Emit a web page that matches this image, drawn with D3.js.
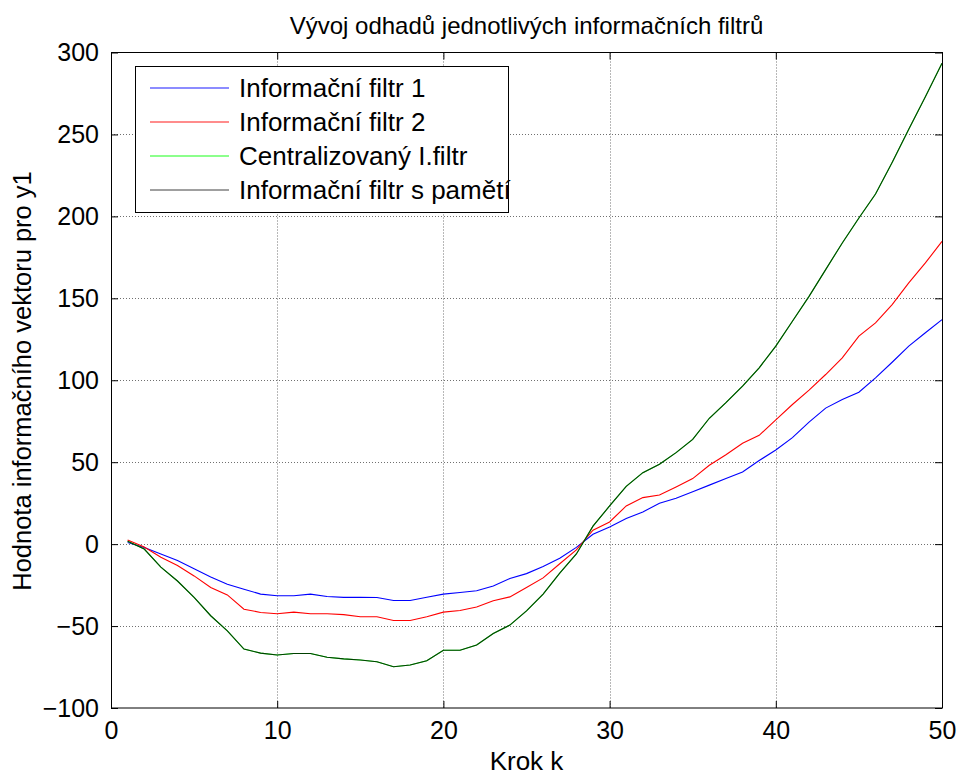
<!DOCTYPE html>
<head>
  <meta charset="utf-8">
  <script src="https://d3js.org/d3.v7.min.js"></script>
  <style>
    body { margin:0; padding:0; background:#fff; }
    text { font-family: "Liberation Sans", Arial, sans-serif; fill:#000; }
  </style>
</head>
<body>
  <svg id="chart" width="958" height="776"></svg>
  <script>
    var width  = 958;
    var height = 776;

    var steps = d3.range(1, 51);
    var filtr1 = [1, -2, -6, -10, -15, -20, -24.5, -27.5, -30.5, -31.5,
                  -31.5, -30.5, -32, -32.5, -32.5, -32.6, -34.4, -34.4, -32.4, -30.5,
                  -29.5, -28.5, -25.5, -21, -18, -13.7, -8.6, -2, 6, 10.5,
                  15.6, 19.6, 25, 28, 32, 36, 40, 44, 51, 57.4,
                  65, 74.5, 83, 88.3, 92.7, 101.5, 111, 120.8, 129, 137];
    var filtr2 = [2.5, -1.7, -8, -13, -19.4, -26.5, -31, -39.7, -41.7, -42.5,
                  -41.5, -42.5, -42.5, -43, -44.3, -44.3, -46.6, -46.6, -44.3, -41.5,
                  -40.5, -38.4, -34.6, -32.2, -26.5, -20.6, -12, -3.5, 8.5, 13.5,
                  23.3, 28.4, 30, 34.9, 40, 48.1, 54.5, 61.5, 66.4, 75.8,
                  85.2, 94, 103.5, 113.7, 126.9, 135, 146.2, 159.4, 171.6, 184.7];
    var pamet  = [1.8, -3, -14, -22.5, -32.5, -43.7, -52.9, -64, -66.5, -67.7,
                  -66.7, -66.7, -69, -70, -70.7, -71.8, -74.8, -73.8, -71.2, -64.8,
                  -64.8, -61.6, -54.5, -49.4, -40.7, -30.5, -17.7, -6, 11, 23.3,
                  35.3, 43.6, 48.7, 55.8, 63.9, 76.8, 86.3, 96.4, 107.6, 120.8,
                  136, 151.2, 167.5, 183.8, 199, 213.6, 232.9, 253.1, 273, 293.4];
    var central = pamet.slice();

    var names  = ["Informační filtr 1", "Informační filtr 2", "Centralizovaný I.filtr", "Informační filtr s pamětí"];
    var colors = ["#0000ff", "#ff0000", "#00ff00", "#000000"];

    var xTicks = [0, 10, 20, 30, 40, 50];
    var yTicks = [-100, -50, 0, 50, 100, 150, 200, 250, 300];

    var series = [filtr1, filtr2, central, pamet].map(function(v, i) {
      return {name: names[i], values: v, color: colors[i]};
    });

    var padL = 111, padR = 942, padT = 52.5, padB = 708;

    var svg = d3.select("#chart");
    var x = d3.scaleLinear().domain([0, 50]).range([padL, padR]);
    var y = d3.scaleLinear().domain([-100, 300]).range([padB, padT]);

    // grid
    var grid = svg.append("g").attr("stroke", "#707070").attr("stroke-width", 1)
        .attr("stroke-dasharray", "1,2");
    grid.selectAll("line.gx").data(xTicks.slice(1, -1)).enter().append("line")
        .attr("x1", d => Math.round(x(d)) + 0.5).attr("x2", d => Math.round(x(d)) + 0.5)
        .attr("y1", padT).attr("y2", padB);
    grid.selectAll("line.gy").data(yTicks.slice(1, -1)).enter().append("line")
        .attr("y1", d => Math.round(y(d)) + 0.5).attr("y2", d => Math.round(y(d)) + 0.5)
        .attr("x1", padL).attr("x2", padR);

    // lines (green under, black on top -> dark green look)
    var line = d3.line().x((d, i) => x(steps[i])).y(d => y(d));
    series.forEach(function(s) {
      svg.append("path").attr("d", line(s.values)).attr("fill", "none")
        .attr("stroke", s.color).attr("stroke-width", 1.1)
        .attr("stroke-opacity", s.color === "#000000" ? 0.75 : 1);
    });

    // axes with inward ticks
    var tl = 7;
    var fnt = "'Liberation Sans', Arial, sans-serif";
    svg.append("g").attr("transform", "translate(0," + padB + ")")
      .call(d3.axisBottom(x).tickValues(xTicks).tickSize(-tl).tickPadding(13))
      .call(g => g.select(".domain").remove());
    svg.append("g").attr("transform", "translate(0," + padT + ")")
      .call(d3.axisTop(x).tickValues(xTicks).tickSize(-tl).tickFormat(""))
      .call(g => g.select(".domain").remove());
    svg.append("g").attr("transform", "translate(" + padL + ",0)")
      .call(d3.axisLeft(y).tickValues(yTicks).tickSize(-tl).tickPadding(12))
      .call(g => g.select(".domain").remove());
    svg.append("g").attr("transform", "translate(" + padR + ",0)")
      .call(d3.axisRight(y).tickValues(yTicks).tickSize(-tl).tickFormat(""))
      .call(g => g.select(".domain").remove());
    svg.selectAll(".tick text").style("font-size", "25px").style("font-family", fnt).attr("fill", "#000");
    svg.selectAll(".tick line").attr("stroke", "#000");

    svg.append("rect").attr("x", padL + 0.5).attr("y", padT).attr("width", padR - padL)
      .attr("height", padB - padT).attr("fill", "none").attr("stroke", "#000").attr("stroke-width", 1);

    // title and labels
    svg.append("text").attr("x", (padL + padR) / 2).attr("y", 34)
      .attr("text-anchor", "middle").style("font-size", "24px")
      .text("Vývoj odhadů jednotlivých informačních filtrů");
    svg.append("text").attr("x", (padL + padR) / 2).attr("y", 770)
      .attr("text-anchor", "middle").style("font-size", "26px").text("Krok k");
    svg.append("text").attr("transform", "translate(31,381) rotate(-90)")
      .attr("text-anchor", "middle").style("font-size", "25.5px")
      .text("Hodnota informačního vektoru pro y1");

    // legend
    var lg = svg.append("g");
    lg.append("rect").attr("x", 135.5).attr("y", 66.5).attr("width", 373).attr("height", 146)
      .attr("fill", "#fff").attr("stroke", "#000").attr("stroke-width", 1);
    lg.selectAll("line.key").data(series).enter().append("line")
      .attr("x1", 150).attr("x2", 229)
      .attr("y1", (d, i) => 88 + i * 34).attr("y2", (d, i) => 88 + i * 34)
      .attr("stroke", d => d.color).attr("stroke-width", 1)
      .attr("stroke-opacity", d => d.color === "#000000" ? 0.75 : 0.9);
    lg.selectAll("text.key").data(series).enter().append("text")
      .attr("x", 239).attr("y", (d, i) => 97 + i * 34)
      .style("font-size", "26px").text(d => d.name);
  </script>
</body>
